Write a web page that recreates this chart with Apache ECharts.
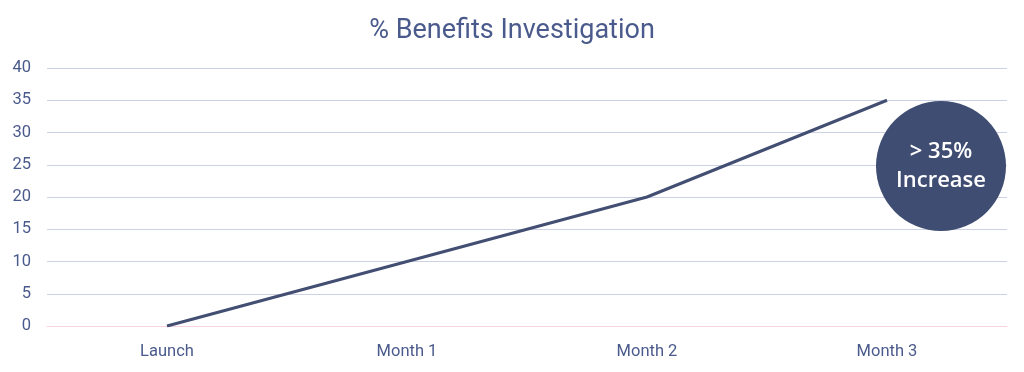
<!DOCTYPE html>
<html><head><meta charset="utf-8">
<script src="https://cdn.jsdelivr.net/npm/echarts@6/dist/echarts.min.js"></script>
<style>html,body{margin:0;padding:0;background:#fff}#c{width:1024px;height:372px}</style>
</head><body><div id="c"></div>
<script>
const categories = ['Launch', 'Month 1', 'Month 2', 'Month 3'];
const values = [0, 10, 20, 35];
const yTicks = { min: 0, max: 40, interval: 5 };
const titleText = '% Benefits Investigation';
const badgeText = '> 35%\nIncrease';

const chart = echarts.init(document.getElementById('c'));
const txt = '#4a5a8c';
const ff = 'Roboto, sans-serif';
chart.setOption({
  animation: false,
  title: { text: titleText, left: 'center', top: 13,
    textStyle: { color: txt, fontSize: 27, fontWeight: 'normal', fontFamily: ff } },
  grid: { left: 47, right: 17, top: 68, bottom: 46, containLabel: false },
  xAxis: { type: 'category', data: categories, boundaryGap: true,
    axisLine: { show: true, lineStyle: { color: '#f7d3e2', width: 1 } },
    axisTick: { show: false },
    axisLabel: { color: txt, fontSize: 16.5, margin: 17, fontFamily: ff } },
  yAxis: { type: 'value', min: yTicks.min, max: yTicks.max, interval: yTicks.interval,
    axisLine: { show: false }, axisTick: { show: false },
    splitLine: { lineStyle: { color: '#cdd1e6', width: 1 } },
    axisLabel: { color: txt, fontSize: 16.5, margin: 16, fontFamily: ff } },
  series: [{ type: 'line', data: values, symbol: 'none',
    lineStyle: { color: '#434f72', width: 3 } }],
  graphic: [{
    type: 'circle', shape: { cx: 941, cy: 166, r: 65 },
    style: { fill: '#3f4d72' }, z: 100
  }, {
    type: 'text', x: 941, y: 166, z: 101,
    style: { text: badgeText, fill: '#ffffff', fontSize: 22, lineHeight: 29, fontWeight: 600,
      fontFamily: 'Open Sans, Lato, sans-serif', align: 'center', verticalAlign: 'middle' }
  }]
});
</script></body></html>
